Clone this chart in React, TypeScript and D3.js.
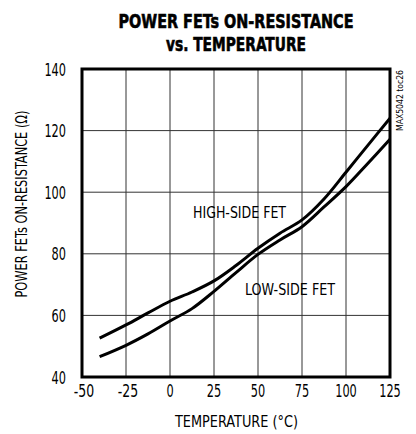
import * as d3 from 'd3';

const temps = [-40, -25, -12.5, 0, 12.5, 25, 37.5, 50, 62.5, 75, 87.5, 100, 112.5, 125];
const highSide = [52.6, 56.9, 60.8, 64.6, 67.6, 71.2, 76.2, 81.8, 86.7, 91, 97.8, 106.5, 115.3, 124];
const lowSide = [46.6, 50.3, 54, 58.2, 62.2, 67.8, 73.9, 79.8, 84.5, 88.8, 95.2, 101.8, 109.4, 117.2];
const xTicks = [-50, -25, 0, 25, 50, 75, 100, 125];
const yTicks = [40, 60, 80, 100, 120, 140];

const W = 416;
const H = 434;
const FONT = "'Liberation Sans Narrow', 'DejaVu Sans Condensed', Roboto, sans-serif";

// width of a narrow tick label, about 7px per digit and 6px for the minus
const labelWidth = (s: string) => s.replace('-', '').length * 7.2 + (s.startsWith('-') ? 6 : 0);

export default function App() {
  const x = d3.scaleLinear().domain([-50, 125]).range([82, 390]);
  const y = d3.scaleLinear().domain([40, 140]).range([377, 69]);

  const line = d3
    .line<number>()
    .x((_, i) => x(temps[i]))
    .y((d) => y(d))
    .curve(d3.curveCatmullRom.alpha(0.5));

  return (
    <svg width={W} height={H} style={{ position: 'absolute', left: 0, top: 0, background: '#fff' }}>
      {/* title */}
      <g fontFamily={FONT} fontWeight="bold" fontSize={20} textAnchor="middle" fill="#000" stroke="#000" strokeWidth={0.6}>
        <text x={236} y={28} textLength={235} lengthAdjust="spacingAndGlyphs">POWER FETs ON-RESISTANCE</text>
        <text x={236} y={51} textLength={140} lengthAdjust="spacingAndGlyphs">vs. TEMPERATURE</text>
      </g>

      {/* grid */}
      <g stroke="#333" strokeWidth={1}>
        {xTicks.slice(1, -1).map((t) => (
          <line key={'gx' + t} x1={x(t)} x2={x(t)} y1={y(140)} y2={y(40)} />
        ))}
        {yTicks.slice(1, -1).map((t) => (
          <line key={'gy' + t} x1={x(-50)} x2={x(125)} y1={y(t)} y2={y(t)} />
        ))}
      </g>

      {/* curves */}
      <path d={line(highSide) ?? ''} fill="none" stroke="#000" strokeWidth={3} />
      <path d={line(lowSide) ?? ''} fill="none" stroke="#000" strokeWidth={3} />

      {/* frame */}
      <rect x={x(-50)} y={y(140)} width={x(125) - x(-50)} height={y(40) - y(140)} fill="none" stroke="#000" strokeWidth={3} />

      {/* tick labels */}
      <g fontFamily={FONT} fontSize={17.5} fill="#000">
        {yTicks.map((t) => (
          <text key={'ty' + t} x={66} y={y(t) + 6.5} textAnchor="end" textLength={labelWidth(String(t))} lengthAdjust="spacingAndGlyphs">
            {t}
          </text>
        ))}
        {xTicks.map((t) => (
          <text key={'tx' + t} x={x(t) + (t < 0 ? 2 : 0)} y={397} textAnchor="middle" textLength={labelWidth(String(t))} lengthAdjust="spacingAndGlyphs">
            {t}
          </text>
        ))}
      </g>

      {/* axis titles */}
      <g fontFamily={FONT} fontSize={16} fill="#000" textAnchor="middle">
        <text x={236.5} y={427} textLength={123} lengthAdjust="spacingAndGlyphs">TEMPERATURE (°C)</text>
        <text transform="translate(27,204) rotate(-90)" textLength={187} lengthAdjust="spacingAndGlyphs">
          POWER FETs ON-RESISTANCE (Ω)
        </text>
      </g>

      {/* curve labels */}
      <g fontFamily={FONT} fontSize={16} fill="#000">
        <text x={193} y={218} textLength={93} lengthAdjust="spacingAndGlyphs">HIGH-SIDE FET</text>
        <text x={245} y={295} textLength={90} lengthAdjust="spacingAndGlyphs">LOW-SIDE FET</text>
      </g>

      <text
        transform="translate(403,70) rotate(-90)"
        textAnchor="end"
        fontFamily={FONT}
        fontSize={9}
        fill="#000"
        textLength={61}
        lengthAdjust="spacingAndGlyphs"
      >
        MAX5042 toc26
      </text>
    </svg>
  );
}
